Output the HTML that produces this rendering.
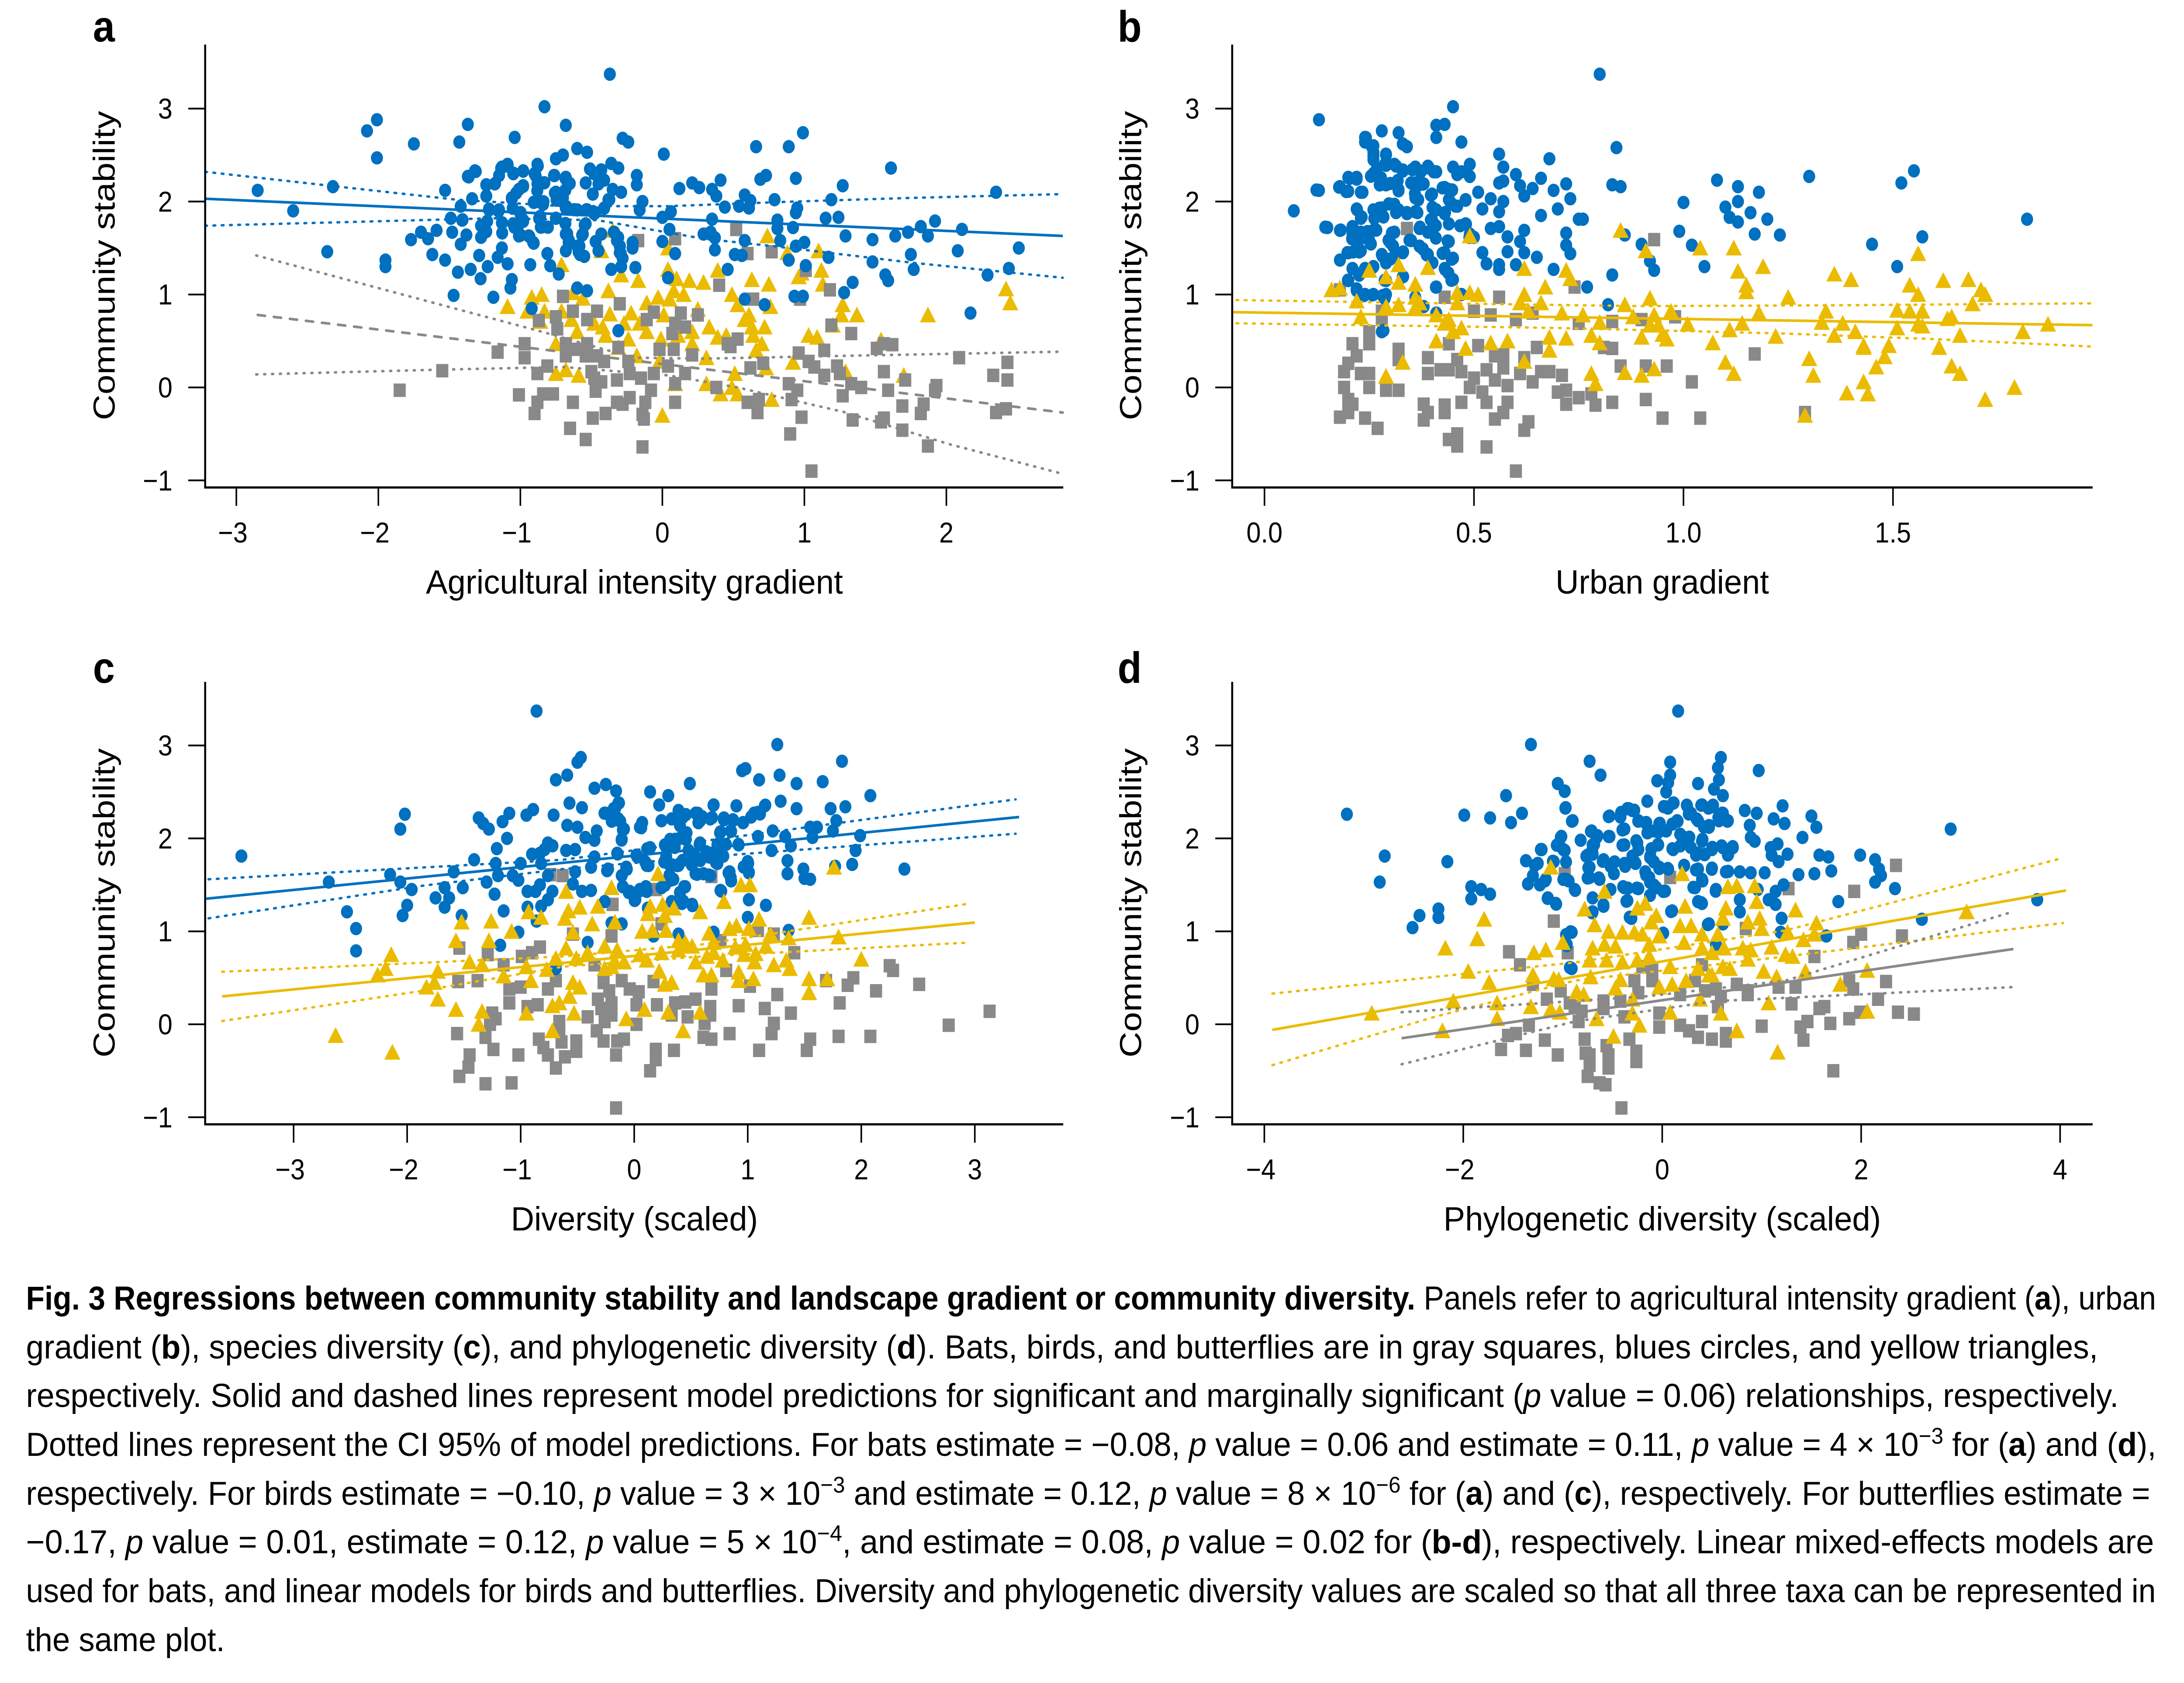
<!DOCTYPE html>
<html lang="en">
<head>
<meta charset="utf-8">
<title>Regressions between community stability and landscape gradient or community diversity</title>
<style>
html,body{margin:0;padding:0;background:#fff;width:100%;height:100%;overflow:hidden;}
svg{display:block;width:100vw;height:100vh;font-family:"Liberation Sans",Arial,sans-serif;}
</style>
</head>
<body>
<svg id="fig" xmlns="http://www.w3.org/2000/svg" viewBox="0 0 5546 3853" preserveAspectRatio="none">
<rect width="5546" height="3853" fill="#ffffff"/>
<g id="plots"></g>
<g font-size="76" fill="#000">
<text class="cap" data-w="5409" data-y="2998"><tspan font-weight="bold">Fig. 3 Regressions between community stability and landscape gradient or community diversity.</tspan> Panels refer to agricultural intensity gradient (<tspan font-weight="bold">a</tspan>), urban</text>
<text class="cap" data-w="5261" data-y="3110">gradient (<tspan font-weight="bold">b</tspan>), species diversity (<tspan font-weight="bold">c</tspan>), and phylogenetic diversity (<tspan font-weight="bold">d</tspan>). Bats, birds, and butterflies are in gray squares, blues circles, and yellow triangles,</text>
<text class="cap" data-w="5314" data-y="3221">respectively. Solid and dashed lines represent model predictions for significant and marginally significant (<tspan font-style="italic">p</tspan> value = 0.06) relationships, respectively.</text>
<text class="cap" data-w="5409" data-y="3333">Dotted lines represent the CI 95% of model predictions. For bats estimate = −0.08, <tspan font-style="italic">p</tspan> value = 0.06 and estimate = 0.11, <tspan font-style="italic">p</tspan> value = 4 × 10<tspan dy="-28" font-size="52">−3</tspan><tspan dy="28"> for (</tspan><tspan font-weight="bold">a</tspan>) and (<tspan font-weight="bold">d</tspan>),</text>
<text class="cap" data-w="5394" data-y="3445">respectively. For birds estimate = −0.10, <tspan font-style="italic">p</tspan> value = 3 × 10<tspan dy="-28" font-size="52">−3</tspan><tspan dy="28"> and estimate = 0.12, </tspan><tspan font-style="italic">p</tspan> value = 8 × 10<tspan dy="-28" font-size="52">−6</tspan><tspan dy="28"> for (</tspan><tspan font-weight="bold">a</tspan>) and (<tspan font-weight="bold">c</tspan>), respectively. For butterflies estimate =</text>
<text class="cap" data-w="5404" data-y="3556">−0.17, <tspan font-style="italic">p</tspan> value = 0.01, estimate = 0.12, <tspan font-style="italic">p</tspan> value = 5 × 10<tspan dy="-28" font-size="52">−4</tspan><tspan dy="28">, and estimate = 0.08, </tspan><tspan font-style="italic">p</tspan> value = 0.02 for (<tspan font-weight="bold">b-d</tspan>), respectively. Linear mixed-effects models are</text>
<text class="cap" data-w="5409" data-y="3668">used for bats, and linear models for birds and butterflies. Diversity and phylogenetic diversity values are scaled so that all three taxa can be represented in</text>
<text class="cap" data-w="505" data-y="3780">the same plot.</text>
</g>
</svg>
<script>
// ---------- Shared axis data ----------
const yTickValues=[-1,0,1,2,3];
const yTickLabels=["−1","0","1","2","3"];
const yAxisTitle="Community stability";

// ---------- Panel a ----------
const aXTicks=[-3,-2,-1,0,1,2];
const aXLabels=["−3","−2","−1","0","1","2"];
const aBirds=[[-.37,3.37],[-.83,3.02],[-2.01,2.88],[-2.08,2.76],[-1.37,2.83],[-.68,2.82],[-1.04,2.69],[-1.75,2.62],[-1.43,2.64],[-.28,2.68],[-.24,2.64],[-.6,2.57],[-.53,2.53],[-.7,2.5],[-.75,2.46],[.01,2.51],[-2.01,2.47],[.66,2.59],[.89,2.59],[.99,2.74],[1.61,2.36],[.73,2.28],[.69,2.24],[.94,2.25],[1.27,2.17],[.41,2.23],[.21,2.2],[.26,2.15],[.12,2.14],[.35,2.13],[.38,2.06],[.44,1.94],[.58,2.07],[.62,2.01],[.54,1.95],[.61,1.93],[.79,2.02],[1.19,2.02],[.95,1.93],[.94,1.88],[.81,1.8],[.92,1.72],[.81,1.71],[1.15,1.82],[1.24,1.83],[.83,1.58],[1.29,1.63],[1.48,1.59],[1.64,1.63],[1.73,1.67],[1.82,1.73],[1.92,1.79],[1.87,1.63],[2.11,1.7],[2.35,2.1],[2.51,1.5],[2.08,1.47],[1.75,1.43],[1.77,1.27],[1.48,1.35],[1.17,1.4],[1.57,1.21],[1.59,1.15],[2.29,1.21],[2.44,1.28],[2.17,.8],[1.34,1.13],[1.28,1.02],[1.01,1.31],[.99,.98],[.93,.98],[.72,.89],[.58,.95],[.46,1.27],[1,1.56],[.94,1.52],[.89,1.37],[.58,1.58],[.51,1.43],[.56,1.42],[.37,1.48],[.37,1.61],[.29,1.65],[.35,1.81],[.34,1.67],[.09,1.44],[.05,1.7],[.06,1.89],[0,1.83],[0,1.57],[.04,1.18],[-.14,2],[-.18,2.28],[-.18,2.18],[-.16,1.91],[-.21,1.56],[-.21,1.5],[-.19,1.29],[-.29,1.3],[-.36,1.27],[-.3,1.45],[-.31,.61],[-.53,1.04],[-.6,1.07],[-.73,1.22],[-.79,1.31],[-.81,1.44],[-.93,1.32],[-.92,.85],[-1.07,1.07],[-1.06,1.16],[-1.19,.97],[-1.47,.99],[-1.28,1.17],[-1.44,1.24],[-1.35,1.27],[-1.23,1.3],[-1.29,1.42],[-1.16,1.4],[-1.09,1.33],[-1.13,1.5],[-1.53,1.37],[-1.62,1.43],[-1.95,1.37],[-1.95,1.3],[-2.36,1.46],[-2.6,1.9],[-2.85,2.12],[-2.32,2.16],[-1.53,2.12],[-1.77,1.59],[-1.7,1.67],[-1.65,1.6],[-1.59,1.69],[-1.48,1.67],[-1.42,1.54],[-1.38,1.64],[-1.49,1.82],[-1.41,1.8],[-1.42,1.95],[-1.34,2.03],[-1.37,2.27],[-1.32,2.33],[-1.24,2.18],[-1.24,2.06],[-1.22,1.91],[-1.27,1.73],[-1.25,1.67],[-1.13,1.77],[-1.15,1.91],[-1.18,2.19],[-1.15,2.28],[-1.13,2.37],[-1.09,2.4],[-1.05,2.3],[-.98,2.33],[-.88,2.4],[-.9,2.3],[-1.01,2.13],[-.98,2.17],[-1.06,2.04],[-.88,2.19],[-.84,2.2],[-.76,2.28],[-.68,2.26],[-.66,2.2],[-.75,2.1],[-.88,2],[-.84,1.97],[-.7,2.04],[-.68,1.93],[-.6,1.91],[-.53,1.91],[-.41,1.93],[-.48,1.87],[-.54,2.2],[-.48,2.3],[-.51,2.35],[-.43,2.34],[-.36,2.41],[-.31,2.36],[-.45,2.19],[-.41,2.23],[-.35,2.13],[-.29,2.1],[-.38,2.02],[-.49,2.08],[-1,1.87],[-1.05,1.76],[-.98,1.8],[-1.02,1.71],[-1.01,1.63],[-.94,1.63],[-.91,1.56],[-.86,1.84],[-.84,1.73],[-.75,1.82],[-.68,1.65],[-.66,1.56],[-.68,1.47],[-.6,1.52],[-.58,1.43],[-.55,1.41],[-.56,1.65],[-.54,1.76],[-.43,1.65],[-.47,1.57],[-.45,1.47],[-.34,1.67],[-.32,1.58],[-.3,1.52],[-.28,1.39]];
const aBirdsDense=[[-1.314,2.324],[-1.364,2.265],[-1.24,2.18],[-1.178,2.194],[-1.135,2.359],[-1.089,2.382],[-1.048,2.304],[-.98,2.327],[-.877,2.382],[-.893,2.28],[-.831,2.202],[-.763,2.28],[-.683,2.249],[-.652,2.194],[-.683,2.124],[-.98,2.163],[-1.029,2.092],[-1.06,2.03],[-.906,1.991],[-.837,1.998],[-.881,2.116],[-.757,2.092],[-.745,2.014],[-.676,1.944],[-.621,1.912],[-.534,1.912],[-.472,1.881],[-.41,1.928],[-.373,2.022],[-1.221,1.92],[-1.153,1.897],[-1.054,1.928],[-.998,1.881],[-.98,1.787],[-1.042,1.724],[-1.128,1.771],[-1.128,1.662],[-1.234,1.787],[-1.277,1.74],[-1.24,1.677],[-1.277,1.615],[-1.407,1.803],[-.868,1.818],[-.856,1.724],[-.806,1.724],[-.683,1.764],[-.67,1.654],[-.658,1.583],[-.584,1.521],[-.59,1.458],[-.565,1.638],[-.547,1.748],[-.342,1.67],[-.311,1.615],[-.299,1.521],[-.293,1.443],[-.998,1.638],[-.936,1.623],[-.906,1.552]];
const aButterflies=[[-1.09,.87],[-.92,.97],[-.85,1],[-.95,.82],[-.86,.71],[-.71,.82],[-.71,1.32],[-.75,.47],[-.83,.82],[-.64,.73],[-.63,1.02],[-.56,.96],[-.6,.6],[-.48,.69],[-.38,1.04],[-.37,.79],[-.42,.65],[-.4,.56],[-.31,.43],[-.43,1.47],[-.35,1.69],[-.29,1.21],[-.17,1.15],[-.22,.8],[-.27,.69],[-.16,.69],[-.24,.52],[-.18,.34],[-.11,.6],[-.11,.91],[-.03,.97],[.05,.95],[.04,1.5],[.04,1.27],[.08,1.04],[.1,1.17],[.19,1.15],[.15,1],[.01,.78],[-.01,.52],[-.02,.28],[.11,.56],[.21,.6],[.21,.47],[.25,.84],[.29,1.13],[.39,1.26],[.49,1],[.33,.65],[.39,.54],[.45,.56],[.31,.32],[.53,.89],[.63,1.16],[.75,1.11],[.74,1.63],[.88,1.45],[.76,.87],[.61,.78],[.58,.73],[.63,.65],[.72,.65],[.64,.56],[.7,.47],[.66,.4],[.51,.15],[.73,.21],[.92,.27],[.96,1.19],[.98,1.23],[1.1,1.47],[1.12,1.26],[1.13,1.11],[1.27,.89],[1.26,.78],[1.2,.67],[1.37,.78],[1.03,.56],[1.09,.54],[1.29,.17],[1.7,.13],[1.54,.51],[1.87,.78],[2.42,1.06],[2.45,.91],[.77,-.13],[.53,-.07],[.41,-.07],[.49,0],[.31,.04],[.09,.04],[0,-.3],[-.75,.15],[-.68,.19],[-.59,.13]];
const aBats=[[-1.85,-.03],[-1.55,.18],[-1.16,.38],[-.97,.47],[-.97,.32],[-.7,.98],[-.87,.72],[-.75,.76],[-.74,.63],[-.63,.82],[-.46,.82],[-.53,.73],[-.3,.9],[-.06,.81],[-.17,1.58],[.09,1.6],[.52,1.7],[.6,1.44],[.77,1.46],[1.01,1.26],[1.18,1.05],[.4,1.1],[.64,.95],[.97,.95],[-.11,.73],[.13,.8],[.09,.69],[.25,.78],[.16,.65],[.07,.58],[1.19,.67],[1.33,.58],[-.68,.47],[-.68,.34],[-.6,.41],[-.53,.47],[-.54,.34],[-.46,.34],[-.41,.28],[-.31,.43],[-.24,.28],[-.02,.41],[.08,.41],[.21,.35],[.46,.47],[.53,.52],[.48,.44],[.71,.26],[.62,.21],[.96,.37],[1.03,.28],[1.14,.4],[1.07,.22],[1.23,.23],[1.14,.13],[1.25,.15],[1.51,.42],[1.56,.47],[1.62,.46],[1.56,.17],[1.71,.08],[2.09,.32],[2.43,.27],[2.33,.13],[2.43,.08],[1.93,.02],[1.92,-.03],[1.59,-.03],[1.4,0],[1.33,.04],[.89,.04],[.95,-.03],[1.27,-.09],[.91,-.13],[.6,-.16],[.68,-.13],[.67,-.27],[.38,0],[.09,.04],[.09,-.16],[.16,.15],[.04,.23],[-.06,.15],[-.15,.1],[-.08,-.03],[-.23,.15],[-.32,.08],[-.43,.06],[-.5,.17],[-.48,.1],[-.47,-.04],[-.88,.15],[-.81,.23],[-1.01,-.08],[-.84,-.07],[-.77,-.07],[-.88,-.16],[-.9,-.28],[-.63,-.16],[-.32,-.16],[-.23,-.11],[-.28,-.18],[-.12,-.16],[-.4,-.28],[-.49,-.33],[-.65,-.44],[-.54,-.56],[-.14,-.64],[-.14,-.29],[-.13,-.34],[.9,-.5],[.98,-.32],[1.05,-.9],[1.34,-.35],[1.54,-.37],[1.56,-.33],[1.69,-.46],[1.69,-.2],[1.84,-.18],[1.82,-.28],[1.87,-.63],[2.35,-.27],[2.42,-.23]];
const aBirdFit=[[-3.22,2.03],[2.82,1.63]];
const aBirdUpper=[[-3.22,2.32],[-2.34,2.17],[-1.45,2.02],[-.7,1.95],[.04,1.95],[.93,2],[1.77,2.04],[2.82,2.08]];
const aBirdLower=[[-3.22,1.74],[-2.2,1.78],[-1.2,1.82],[-.46,1.8],[.29,1.6],[.78,1.52],[1.77,1.34],[2.82,1.18]];
const aBatFit=[[-2.85,.78],[2.82,-.27]];
const aBatUpper=[[-2.86,1.42],[-1.5,.865],[-.85,.6],[-.2,.32],[.29,.31],[1.28,.34],[2.82,.385]];
const aBatLower=[[-2.86,.14],[-1.6,.19],[-.7,.22],[.04,.13],[.53,0],[1.28,-.265],[2.02,-.61],[2.82,-.93]];

// ---------- Panel b ----------
const bXTicks=[0,.5,1,1.5];
const bXLabels=["0.0","0.5","1.0","1.5"];
const bBirds=[[.8,3.37],[.13,2.88],[.45,3.02],[.43,2.83],[.41,2.82],[.41,2.69],[.28,2.76],[.32,2.74],[.24,2.69],[.24,2.64],[.26,2.6],[.33,2.62],[.34,2.59],[.47,2.64],[.56,2.51],[.68,2.46],[.84,2.58],[.26,2.53],[.29,2.51],[.26,2.45],[.29,2.39],[.31,2.4],[.57,2.37],[.49,2.4],[.45,2.37],[.39,2.38],[.36,2.37],[.33,2.34],[.37,2.33],[.41,2.32],[.47,2.32],[.46,2.29],[.49,2.27],[.6,2.29],[.57,2.22],[.56,2.2],[.66,2.25],[.72,2.19],[.61,2.17],[.64,2.14],[.69,2.12],[.62,2.06],[.73,2.03],[.7,1.92],[.66,1.85],[.83,2.18],[.85,2.16],[1,1.99],[1.08,2.23],[1.13,2.16],[1.18,2.1],[1.13,2],[1.1,1.94],[1.16,1.88],[1.11,1.83],[1.13,1.78],[1.2,1.81],[1.17,1.65],[1.23,1.64],[1.3,2.27],[1.52,2.2],[1.55,2.33],[1.82,1.81],[1.57,1.62],[1.45,1.54],[1.51,1.3],[1.05,1.3],[1.02,1.53],[.99,1.68],[.86,1.64],[.9,1.54],[.92,1.36],[.93,1.26],[.83,1.21],[.82,.89],[.77,1.08],[.75,1.81],[.76,1.81],[.72,1.66],[.72,1.53],[.73,1.44],[.69,1.27],[.65,1.4],[.62,1.45],[.62,1.69],[.61,1.57],[.58,1.62],[.58,1.46],[.6,1.32],[.56,1.27],[.56,1.32],[.53,1.33],[.52,1.45],[.54,1.71],[.56,1.73],[.56,1.89],[.57,2],[.54,2.03],[.52,1.92],[.51,2.1],[.48,2.02],[.46,1.95],[.44,2.02],[.43,2.15],[.44,2.13],[.4,2.08],[.38,2.19],[.36,2.2],[.36,2.04],[.32,2.13],[.29,2.18],[.27,2.28],[.26,2.3],[.23,2.1],[.22,2.26],[.2,2.26],[.18,2.16],[.2,2.11],[.13,2.12],[.07,1.9],[.15,1.72],[.22,1.92],[.23,1.82],[.26,1.91],[.28,1.93],[.31,1.97],[.32,1.91],[.34,1.87],[.36,1.89],[.41,1.91],[.4,1.8],[.43,1.87],[.44,1.76],[.48,1.76],[.49,1.65],[.44,1.57],[.39,1.67],[.37,1.71],[.35,1.58],[.37,1.52],[.39,1.43],[.43,1.45],[.45,1.39],[.43,1.28],[.45,1.16],[.41,1.08],[.47,1],[.33,1.45],[.31,1.67],[.3,1.56],[.31,1.41],[.28,1.43],[.29,1.34],[.23,1.47],[.2,1.45],[.18,1.37],[.21,1.28],[.24,1.28],[.26,1.3],[.21,1.65],[.23,1.67],[.18,1.69],[.21,1.73],[.25,1.58],[.26,1.69],[.2,1.15],[.22,1.06],[.24,1],[.26,1],[.29,1],[.29,1.15],[.33,1.19],[.28,.6],[.36,.97],[.38,.87],[.41,.8]];
const bBirdsDense=[[.242,2.688],[.256,2.594],[.26,2.492],[.29,2.5],[.287,2.398],[.314,2.382],[.33,2.327],[.268,2.351],[.254,2.273],[.278,2.257],[.275,2.179],[.3,2.194],[.318,2.226],[.32,2.116],[.353,2.343],[.373,2.32],[.393,2.359],[.404,2.32],[.35,2.2],[.376,2.186],[.359,2.085],[.367,2.02],[.397,2.069],[.425,2.147],[.448,2.124],[.401,1.936],[.444,1.991],[.456,1.951],[.48,2.014],[.431,1.881],[.397,1.803],[.409,1.74],[.371,1.724],[.365,1.881],[.34,1.881],[.314,1.881],[.297,1.975],[.274,1.928],[.262,1.818],[.284,1.834],[.221,1.912],[.232,1.834],[.267,1.693],[.246,1.677],[.209,1.709],[.223,1.568],[.209,1.599],[.254,1.544],[.212,1.458],[.198,1.45],[.226,1.458],[.304,1.662],[.296,1.584],[.307,1.521],[.331,1.458],[.282,1.411],[.3,1.38],[.346,1.584],[.378,1.49],[.387,1.427],[.401,1.341],[.425,1.443],[.447,1.38],[.431,1.27],[.439,1.231],[.446,1.153],[.409,1.079],[.437,1.576],[.409,1.607],[.481,1.756],[.467,1.74],[.5,1.615],[.489,1.615],[.21,1.278],[.199,1.153],[.226,1.208],[.238,1.262],[.259,1.294],[.287,1.153],[.331,1.192],[.22,1.043],[.237,.988],[.258,.996],[.282,.988],[.287,.957],[.284,.613],[.124,2.124],[.178,2.155],[.195,2.108],[.203,2.249],[.22,2.241],[.234,2.1],[.145,1.724],[.182,1.693]];
const bButterflies=[[.16,1.05],[.18,1.07],[.25,1.26],[.29,1.19],[.32,1.32],[.32,1.13],[.36,1.11],[.39,1.29],[.36,.97],[.37,.91],[.22,.93],[.29,.87],[.32,.89],[.36,.86],[.23,.76],[.41,.78],[.43,.69],[.45,.6],[.44,.73],[.47,.64],[.41,.5],[.48,.42],[.33,.27],[.29,.12],[.49,1.63],[.46,1.02],[.49,1.02],[.51,1],[.46,.91],[.54,.48],[.58,.5],[.62,.28],[.62,1.28],[.62,1],[.61,.91],[.63,.82],[.66,.91],[.67,1.08],[.72,1.26],[.73,1.17],[.71,.8],[.76,.78],[.68,.54],[.68,.4],[.72,.53],[.78,.56],[.8,.48],[.78,.15],[.79,.04],[.8,.7],[.86,.89],[.88,.76],[.92,.96],[.85,1.69],[.91,1.47],[1.04,1.5],[1.12,1.5],[1.13,1.25],[1.15,1.1],[1.15,1.03],[1.19,1.3],[1.25,.97],[1.18,.8],[1.14,.69],[1.11,.62],[1.01,.68],[.97,.82],[.93,.78],[.92,.67],[.94,.67],[.95,.57],[.96,.52],[.9,.54],[1.07,.48],[1.22,.55],[.86,.16],[.9,.13],[.93,.2],[1.1,.27],[1.12,.15],[1.29,-.3],[1.3,.31],[1.31,.13],[1.33,.7],[1.34,.82],[1.36,1.22],[1.4,1.16],[1.38,.69],[1.36,.56],[1.41,.6],[1.43,.45],[1.43,.43],[1.39,-.06],[1.43,.06],[1.44,-.07],[1.46,.22],[1.48,.33],[1.49,.45],[1.51,.83],[1.51,.64],[1.54,.82],[1.54,1.1],[1.56,1.44],[1.56,1],[1.57,.82],[1.56,.68],[1.57,.66],[1.61,.43],[1.62,1.15],[1.63,.74],[1.64,.76],[1.64,.23],[1.66,.15],[1.66,.56],[1.68,1.16],[1.69,.9],[1.71,1.05],[1.72,1],[1.72,-.13],[1.79,0],[1.81,.6],[1.87,.68]];
const bBats=[[.18,-.32],[.2,-.27],[.24,-.33],[.27,-.44],[.19,0],[.2,-.13],[.21,-.18],[.19,.17],[.2,.26],[.22,.34],[.21,.47],[.25,.47],[.25,.6],[.28,.73],[.23,.15],[.25,.15],[.25,0],[.29,-.03],[.32,-.03],[.32,.41],[.32,.3],[.39,.32],[.39,.15],[.42,.19],[.44,.19],[.46,.3],[.47,.17],[.44,.47],[.51,.45],[.53,.19],[.5,.1],[.49,0],[.47,-.16],[.52,-.05],[.53,-.16],[.38,-.18],[.39,-.27],[.38,-.35],[.43,-.19],[.43,-.27],[.46,-.5],[.44,-.56],[.46,-.63],[.53,-.64],[.6,-.9],[.55,-.34],[.57,-.27],[.58,-.16],[.55,.08],[.58,.02],[.57,.21],[.55,.34],[.57,.35],[.61,.15],[.64,.06],[.66,.17],[.68,.17],[.65,.43],[.62,.32],[.71,.13],[.7,-.05],[.72,-.03],[.72,-.18],[.75,-.11],[.78,-.07],[.79,-.19],[.83,-.16],[.63,-.37],[.62,-.46],[.91,-.13],[.95,-.33],[1.04,-.33],[1.02,.06],[.96,.23],[.91,.23],[.85,.23],[.83,.42],[.81,.43],[1.29,-.27],[1.17,.36],[.93,1.59],[.98,.76],[.9,.73],[.83,.71],[.75,.69],[.64,.8],[.6,.73],[.54,.78],[.5,.82],[.56,.97],[.43,.97],[.74,1.08],[.34,1.71],[.18,1.05],[.28,.82]];
const bButterflyFit=[[-.075,.81],[1.976,.67]];
const bButterflyUpper=[[-.067,.94],[.5,.9],[.9,.875],[1.4,.885],[1.976,.905]];
const bButterflyLower=[[-.067,.69],[.7,.64],[1.24,.58],[1.6,.52],[1.976,.44]];

// ---------- Panel c ----------
const cXTicks=[-3,-2,-1,0,1,2,3];
const cXLabels=["−3","−2","−1","0","1","2","3"];
const cBirds=[[-.86,3.37],[1.26,3.01],[1.83,2.83],[-.47,2.87],[-.5,2.82],[-.59,2.68],[-.69,2.63],[.95,2.73],[.98,2.75],[1.28,2.68],[1.1,2.63],[.49,2.59],[-.25,2.58],[-.35,2.54],[-.16,2.51],[.14,2.5],[.3,2.46],[1.43,2.59],[1.66,2.61],[2.08,2.46],[1.86,2.34],[1.73,2.32],[1.43,2.32],[1.29,2.4],[1.15,2.35],[.9,2.35],[.7,2.36],[.22,2.36],[-.14,2.38],[-.57,2.38],[-.46,2.33],[-.25,2.27],[-.18,2.32],[-.71,2.25],[-.89,2.31],[-.95,2.25],[-1.1,2.27],[-1.16,2.18],[-1.37,2.22],[-1.33,2.16],[-1.28,2.1],[-2.02,2.26],[-2.06,2.1],[-3.46,1.81],[-2.69,1.53],[-2.15,1.61],[-2.06,1.53],[-1.96,1.45],[-2.53,1.21],[-2.45,1.03],[-2.45,.79],[-2.04,1.17],[-2,1.28],[-1.67,1.47],[-1.75,1.36],[-1.63,1.36],[-1.67,1.26],[-1.59,1.64],[-1.51,1.47],[-1.52,1.17],[-1.23,1.4],[-1.15,1.22],[-1.02,.99],[-1.18,.85],[-1.3,1.53],[-1.2,1.6],[-1.22,1.73],[-1.21,1.89],[-1.12,2],[-1.41,1.77],[-1,1.73],[-1.07,1.6],[-1.02,1.55],[-.94,1.43],[-.87,1.43],[-.94,1.26],[-.82,1.27],[-.83,1.5],[-.76,1.6],[-.72,1.43],[-.9,1.83],[-.83,1.84],[-.76,1.95],[-.79,1.88],[-.72,1.92],[-.82,1.73],[-.6,1.87],[-.52,1.88],[-.59,2.14],[-.5,2.12],[-.43,2.01],[-.33,2.08],[-.35,1.98],[-.11,1.99],[-.14,2.21],[-.09,2.1],[.05,2.12],[.07,2.17],[.24,2.19],[.33,2.21],[.39,2.3],[.43,2.23],[.56,2.27],[.58,2.19],[.67,2.21],[.79,2.22],[.87,2.2],[.96,2.17],[1.03,2.23],[1.09,2.28],[.85,2.08],[.76,2.07],[1.09,2.02],[1.22,2.08],[1.33,2.02],[1.38,1.92],[1.21,1.87],[.92,1.93],[1.35,1.76],[1.35,1.62],[1.49,1.67],[1.5,1.57],[1.55,1.56],[1.55,2.12],[1.61,2.12],[1.57,2.01],[1.75,2.08],[1.78,2.19],[1.99,2.03],[1.95,1.87],[1.92,1.72],[1.77,1.7],[2.38,1.67],[1.16,1.28],[1.01,1.34],[1,1.75],[1.01,1.63],[.98,1.69],[.85,1.58],[.84,1.64],[.76,1.44],[1,1.15],[1.36,1.01],[.7,.99],[.39,.97],[.17,.95],[.51,1.29],[.44,1.48],[.32,1.55],[.33,1.32],[.42,1.3],[.12,1.25],[.11,1.43],[.05,1.45],[.01,1.34],[-.04,1.43],[-.11,1.6],[-.07,1.69],[-.15,1.84],[-.23,1.67],[-.26,1.32],[-.2,1.09],[-.11,1.08],[-.41,.88],[-.38,1.44],[-.46,1.43],[-.54,1.51],[-.52,1.64],[-.38,1.69],[-.35,1.8],[-.76,1.34],[-.86,1.11],[-.69,.6],[.02,1.82],[.11,1.71],[.14,1.9],[.27,1.93],[.36,1.99],[.45,2.03],[.3,1.73],[.39,1.71],[.51,1.8],[.58,1.95],[.66,1.8],[.61,1.62],[.54,1.62],[.67,1.6],[.73,1.86],[.79,1.93],[.72,1.74],[.24,1.47]];
const cBirdsDense=[[.397,2.263],[.455,2.256],[.542,2.271],[.6,2.232],[.686,2.224],[.698,2.357],[.79,2.201],[.871,2.193],[.958,2.169],[1.056,2.271],[1.108,2.263],[1.155,2.357],[.565,2.169],[.403,2.138],[.461,2.06],[.316,1.989],[.415,2.013],[.455,1.989],[.282,1.903],[.357,1.903],[.282,1.809],[.264,1.747],[.334,1.715],[.38,1.708],[.426,1.762],[.478,1.872],[.53,1.825],[.507,1.715],[.576,1.935],[.582,1.762],[.553,1.614],[.657,1.606],[.634,1.856],[.704,1.825],[.733,1.731],[.785,1.809],[.733,1.935],[.808,1.935],[.756,2.06],[.854,2.076],[.918,1.935],[.311,1.606],[.345,1.559],[.27,1.496],[.449,1.48],[.403,1.418],[.432,1.324],[.513,1.277],[-.1,2.091],[-.111,1.982],[-.262,2.271],[-.198,2.185],[-.123,2.185],[.062,2.115],[-.134,2.381],[-.169,2.318],[.114,1.888],[-.146,1.833],[.027,1.802],[.097,1.747],[.126,1.708],[-.065,1.668],[-.239,1.653],[-.1,1.48],[-.048,1.418],[.004,1.332],[.045,1.434],[.103,1.48],[.831,1.629],[.854,1.543],[.767,1.433],[1.01,1.34],[1.004,1.731],[.964,1.692],[1.01,1.637]];
const cButterflies=[[-2.63,-.12],[-2.13,-.3],[-2.26,.53],[-2.19,.6],[-2.14,.75],[-1.83,.4],[-1.76,.45],[-1.73,.57],[-1.73,.27],[-1.57,.16],[-1.57,.9],[-1.52,1.1],[-1.45,.67],[-1.34,.64],[-1.28,.9],[-1.26,1.11],[-1.15,.52],[-1.08,1],[-.95,.62],[-.93,1.21],[-.82,1.15],[-.91,.47],[-.95,.12],[-1.34,.14],[-1.37,0],[-.72,-.07],[-.72,.2],[-.66,.23],[-.57,.3],[-.53,.12],[-.54,.45],[-.48,.4],[-.77,.59],[-.69,.71],[-.6,.82],[-.51,.71],[-.41,.77],[-.54,.99],[-.37,1.08],[-.61,1.14],[-.58,1.22],[-.48,1.26],[-.6,1.43],[-.32,1.27],[-.2,1.47],[-.17,1.1],[-.26,.84],[-.15,.8],[-.26,.6],[-.2,.62],[-.17,.67],[-.09,.67],[-.07,.06],[.09,.16],[.3,.13],[.43,-.07],[.58,.13],[.27,.43],[.33,.45],[.22,.57],[.11,.69],[.05,.75],[.24,.77],[.39,.8],[.51,.84],[.07,1],[.16,1.01],[.12,1.19],[.27,1.17],[.14,1.27],[.25,1.29],[.35,1.25],[.21,1.62],[.28,1.01],[.39,.9],[.45,.88],[.58,1.21],[.66,.98],[.54,.67],[.64,.73],[.7,.88],[.7,.77],[.78,.69],[.61,.53],[.68,.53],[.79,1.32],[.84,1.03],[.9,1.06],[.94,1.5],[1.02,1.5],[1.01,1.03],[1.1,1.13],[.98,.86],[.89,.83],[.97,.75],[1.07,.76],[1.06,.67],[.92,.56],[.92,.47],[1.05,.49],[1.16,.84],[1.2,.97],[1.23,.64],[1.36,.93],[1.34,.69],[1.37,.6],[1.54,1.15],[1.54,.49],[1.54,.34],[1.7,.49],[1.76,1.69],[1.8,.94],[2,.7]];
const cBats=[[-.16,-.9],[-1.08,-.63],[-1.31,-.64],[-1.54,-.56],[-1.46,-.46],[-1.45,-.33],[-1.24,-.27],[-1.02,-.33],[-1.31,-.14],[-1.56,-.1],[-1.55,.46],[-1.38,.47],[-1.54,.82],[-1.29,.75],[-1.15,.64],[-1.1,.38],[-1,.4],[-.99,.73],[-.9,.77],[-.83,.83],[-.63,1.6],[-.74,1.61],[-.54,.97],[-.2,.95],[-.19,1.29],[.19,1.45],[.68,1.59],[1.09,1.01],[1.41,.77],[1.23,.97],[.76,.9],[.24,1.08],[-.35,.64],[-.69,.47],[-.76,.38],[-1.1,.23],[-.94,.19],[-.85,.21],[-1.25,.12],[-1.22,.06],[-1.27,0],[-.66,.03],[-.66,-.07],[-.64,-.19],[-.84,-.16],[-.8,-.25],[-.76,-.33],[-.61,-.35],[-.51,-.18],[-.51,-.29],[-.69,-.47],[-.16,-.33],[-.27,-.18],[-.33,-.07],[-.41,.08],[-.32,.27],[-.27,.45],[-.22,.36],[-.2,.23],[-.29,.17],[-.2,.1],[-.26,.03],[-.15,-.18],[-.09,-.16],[-.11,.47],[-.04,.38],[.04,.35],[.02,.21],[.02,0],[.14,-.5],[.19,-.38],[.19,-.27],[.35,-.28],[.2,.21],[.17,.46],[.36,.23],[.33,.1],[.47,.08],[.54,.27],[.45,.24],[.68,.38],[.67,.19],[.67,.1],[.62,.01],[.61,-.14],[.68,-.16],[.84,-.1],[.92,.2],[.81,.58],[1.02,.41],[1.15,.17],[1.23,.01],[1.21,-.1],[1.1,-.28],[1.26,.32],[1.38,.12],[1.52,-.28],[1.55,-.16],[1.69,.47],[1.8,-.13],[1.81,.23],[1.88,.42],[1.93,.5],[2.08,-.13],[2.13,.36],[2.25,.63],[2.28,.58],[2.51,.43],[2.77,-.01],[3.13,.14]];
const cBirdFit=[[-3.78,1.35],[3.39,2.23]];
const cBirdUpper=[[-3.75,1.56],[-.63,1.77],[.6,1.97],[3.36,2.42]];
const cBirdLower=[[-3.75,1.14],[-1.87,1.49],[-.63,1.67],[.61,1.8],[3.36,2.05]];
const cButterflyFit=[[-3.63,.3],[3,1.095]];
const cButterflyUpper=[[-3.63,.565],[-.63,.73],[.6,.86],[2.96,1.3]];
const cButterflyLower=[[-3.63,.035],[-1.87,.36],[-.63,.62],[.6,.73],[2.96,.88]];

// ---------- Panel d ----------
const dXTicks=[-4,-2,0,2,4];
const dXLabels=["−4","−2","0","2","4"];
const dBirds=[[.16,3.37],[-1.32,3.01],[.59,2.87],[-.73,2.83],[.08,2.82],[.56,2.76],[.97,2.73],[-.62,2.68],[.08,2.68],[.57,2.63],[-.05,2.62],[.06,2.6],[.36,2.59],[-1.05,2.59],[-.98,2.51],[.52,2.53],[.04,2.5],[.61,2.46],[-1.57,2.46],[-.15,2.4],[.11,2.38],[.03,2.34],[.25,2.35],[.4,2.36],[.5,2.34],[-.97,2.33],[-1.41,2.27],[-3.17,2.26],[-1.99,2.25],[-1.73,2.22],[-1.52,2.17],[-.9,2.19],[-.53,2.24],[-.42,2.23],[-.35,2.32],[-.3,2.3],[-.38,2.1],[-.24,2.19],[-.16,2.17],[-.03,2.16],[.15,2.19],[-.08,2.08],[.04,2.08],[.29,2.27],[.36,2.19],[.47,2.12],[.61,2.27],[.57,2.19],[.66,2.19],[.83,2.3],[.95,2.27],[.88,2.14],[1.21,2.35],[1.12,2.21],[1.23,2.16],[1.5,2.24],[1.55,2.12],[1.41,2.01],[2.9,2.1],[.89,2.01],[.93,1.97],[1.09,1.9],[1.16,1.94],[1.26,1.83],[1.17,1.75],[1.1,1.82],[1.58,1.82],[1.67,1.8],[1.99,1.82],[2.14,1.77],[2.18,1.67],[2.2,1.6],[2.14,1.53],[2.34,1.46],[1.77,1.32],[1.7,1.65],[1.53,1.62],[1.37,1.61],[1.22,1.5],[1.03,1.63],[.89,1.63],[1.14,1.43],[1.07,1.34],[1.14,1.29],[1.2,1.14],[1.19,.99],[1.65,.95],[2.61,1.13],[3.77,1.34],[.78,1.34],[.78,1.21],[.47,1.08],[.61,1.08],[.54,.86],[.4,1.3],[.36,1.32],[.1,1.22],[.01,.98],[-.31,1.14],[-.35,1.33],[-.24,1.46],[-.38,1.47],[-.52,1.45],[-.59,1.27],[-.7,1.36],[-.7,1.21],[-.88,1.45],[-.97,1.56],[-1.07,1.3],[-1.15,1.36],[-.91,.99],[-.96,.86],[-.91,.6],[-1.35,1.51],[-1.23,1.5],[-1.17,1.56],[-1.3,1.6],[-1.37,1.76],[-1.28,1.71],[-1.09,1.75],[-1.22,1.88],[-1.04,1.93],[-1.02,2.01],[-.98,1.87],[-.82,1.98],[-.71,2.08],[-.66,2.01],[-.7,1.93],[-.53,2.02],[-.75,1.82],[-.7,1.83],[-.59,1.77],[-.73,1.69],[-.73,1.58],[-.63,1.56],[-.52,1.7],[-.38,1.93],[-.25,1.95],[-.24,1.88],[-.38,1.73],[-.28,1.75],[-.17,1.64],[-.13,1.58],[-.12,1.81],[-.04,1.93],[-.03,1.69],[.06,1.67],[.11,1.88],[.22,2.01],[.4,1.97],[.34,1.82],[.43,1.83],[.5,1.88],[.61,1.9],[.71,1.9],[.66,1.82],[.22,1.71],[.36,1.67],[.5,1.68],[.64,1.64],[.78,1.64],[.4,1.56],[.33,1.47],[.01,1.43],[-.06,1.47],[.54,1.45],[.96,1.45],[-2.25,1.24],[-2.25,1.15],[-2.44,1.17],[-2.51,1.04],[-2.84,1.53],[-2.79,1.81],[-2.16,1.75],[-1.92,1.48],[-1.92,1.35],[-1.82,1.45],[-1.73,1.4]];
const dBirdsDense=[[-.538,2.235],[-.413,2.279],[-.334,2.318],[-.281,2.303],[-.4,2.091],[-.241,2.185],[-.169,2.169],[-.149,2.06],[-.037,2.068],[-.024,2.162],[.102,2.154],[.155,2.185],[.181,2.044],[.273,2.013],[.405,1.989],[.247,2.357],[.267,2.263],[.346,2.209],[.419,2.123],[.471,2.138],[.392,2.357],[.465,2.326],[.511,2.357],[.603,2.271],[.564,2.224],[.656,2.185],[.016,2.342],[.056,2.326],[.115,2.381],[-.717,2.076],[-.651,2.029],[-.538,2.021],[-.684,1.935],[-.763,1.809],[-.703,1.872],[-.743,1.684],[-.75,1.574],[-.598,1.754],[-.519,1.708],[-.479,1.747],[-.637,1.574],[-.486,1.621],[-.373,1.7],[-.3,1.809],[-.261,1.974],[-.268,1.731],[-.4,1.927],[-.162,1.606],[-.122,1.527],[-.083,1.496],[.029,1.433],[-.122,1.387],[-.255,1.465],[-.393,1.48],[-.347,1.465],[-.36,1.324],[-.043,1.935],[-.109,1.888],[-.122,1.794],[-.083,1.747],[-.03,1.676],[.056,1.676],[.102,1.888],[.181,1.919],[.287,1.903],[.359,1.841],[.425,1.825],[.504,1.903],[.597,1.919],[.709,1.911],[.663,1.825],[.221,1.708],[.339,1.661],[.405,1.543],[.313,1.473],[.498,1.668],[.663,1.645],[.537,1.433],[.392,1.308],[.089,1.214],[.458,1.073],[-.327,1.152],[-.703,1.2],[-.591,1.285],[-.981,2.506],[-.974,2.326],[-.908,2.185],[-1.014,2.021],[-1.06,1.927],[-.994,1.88],[-.967,1.747],[-1.099,1.754],[-1.212,1.88],[-1.251,1.731],[-1.179,1.543],[-.994,1.559],[-.941,1.543],[-.875,1.441],[-1.152,1.355],[-1.066,1.293],[-.921,.995],[-.967,.964],[-.961,.846],[-.928,.611]];
const dButterflies=[[-2.92,.12],[-2.21,-.07],[-2.1,.25],[-2.18,.82],[-1.86,.92],[-1.79,1.13],[-1.95,.57],[-1.74,.45],[-1.66,.23],[-1.66,.06],[-1.32,.19],[-1.3,.53],[-1.29,.77],[-1.17,.8],[-1.12,1.69],[-1.12,.16],[-1.03,.13],[-1.09,.49],[-1.04,.48],[-1,.88],[-.86,.35],[-.79,.32],[-.78,1.24],[-.68,1.07],[-.7,.82],[-.73,.69],[-.72,.51],[-.58,1.43],[-.54,1],[-.58,.86],[-.56,.69],[-.47,.84],[-.4,.99],[-.4,.67],[-.42,.48],[-.47,.39],[-.66,.06],[-.49,-.13],[-.3,.27],[-.3,.12],[-.23,-.01],[-.25,1.25],[-.17,1.3],[-.28,.99],[-.2,.97],[-.25,.69],[-.13,.86],[-.13,.73],[-.03,.95],[-.06,1.17],[-.11,1.1],[-.03,.4],[.08,.13],[.38,.27],[.59,.12],[.75,-.07],[1.16,-.3],[1.07,.23],[1.15,.51],[1.02,.57],[1.44,.57],[1.79,.43],[2.06,.58],[2.06,.14],[3.06,1.21],[1.55,1.09],[1.53,.97],[1.42,.91],[1.34,1.23],[1.26,.99],[1.24,.75],[1.31,.73],[1.1,.83],[.98,1.14],[1,1.03],[.95,1.32],[.93,1.49],[.75,1.49],[.66,1.48],[.64,1.25],[.61,1.14],[.86,1.1],[.56,.97],[.4,.97],[.23,1.27],[.29,1.06],[.18,1.06],[.2,1.62],[.22,.88],[.4,.82],[.5,.77],[.62,.82],[.81,.82],[.89,.8],[.86,.7],[.61,.62],[.68,.6],[.47,.53],[.36,.6],[.5,.53],[.24,.47],[.08,.62],[.1,.43]];
const dBats=[[-.41,-.9],[-.57,-.65],[-.63,-.63],[-.75,-.56],[-.73,-.44],[-.54,-.47],[-.73,-.33],[-.77,-.31],[-.54,-.33],[-.56,-.23],[-.78,-.16],[-.33,-.16],[-.26,-.29],[-.26,-.4],[-1.05,-.33],[-1.37,-.28],[-1.62,-.27],[-1.55,-.12],[-1.47,-.1],[-1.18,-.17],[-1.34,-.01],[-.84,.03],[-.88,.19],[-.93,.23],[-.81,.14],[-.59,.25],[-.59,.17],[-.42,.25],[-.38,.08],[-.24,.34],[-.28,.47],[-.1,.47],[-.03,.12],[-.03,-.03],[.18,-.01],[.27,-.07],[.36,-.14],[.4,.03],[.5,-.16],[.64,-.18],[.64,-.1],[.59,.3],[.56,.19],[.18,.32],[.43,.36],[.54,.38],[.75,.43],[.86,.36],[.86,.32],[1,-.02],[1.3,.22],[1.39,-.03],[1.42,-.17],[1.46,.03],[1.58,.17],[1.63,.19],[1.69,.01],[1.88,.06],[1.99,.13],[1.72,-.5],[1.92,.38],[1.88,.47],[2.17,.27],[2.25,.46],[2.37,.13],[2.53,.11],[1.34,.4],[1.17,.4],[1.53,.73],[1.92,.88],[2,.97],[2.41,.95],[1.93,1.43],[2.35,1.71],[1.27,1.46],[.84,1.03],[.08,1.58],[-.98,1.62],[-1.09,1.11],[-1.54,.78],[-1.43,.64],[-.95,.77],[-1.3,.43],[-1.16,.27],[-1.02,.36],[-.2,.62],[-.1,.6],[.4,.64],[.33,.47]];
const dButterflyFit=[[-3.92,-.06],[4.06,1.44]];
const dButterflyUpper=[[-3.92,.33],[-.88,.665],[1.24,1.01],[4.03,1.79]];
const dButterflyLower=[[-3.92,-.44],[-2.29,.08],[-.88,.47],[1.24,.73],[4.03,1.09]];
const dBatFit=[[-2.62,-.15],[3.53,.81]];
const dBatUpper=[[-2.62,.13],[-.17,.3],[1.24,.47],[3.49,1.2]];
const dBatLower=[[-2.62,-.43],[-.88,.03],[.54,.25],[1.95,.32],[3.52,.4]];

// ---------- Drawing ----------
const NS="http://www.w3.org/2000/svg";
const BLUE="#0070c0",YELLOW="#ebbb00",GRAY="#898989";
const plots=document.getElementById('plots');

function mk(parent,tag,attrs){
  const el=document.createElementNS(NS,tag);
  for(const k in attrs) el.setAttribute(k,attrs[k]);
  parent.appendChild(el);
  return el;
}

function drawBirds(g,pts,sx,sy){
  pts.forEach(function(p){
    const el=mk(g,'circle',{cx:sx(p[0]),cy:sy(p[1]),r:15.3,fill:BLUE});
    
    
  });
}
function drawBats(g,pts,sx,sy){
  pts.forEach(function(p){
    const el=mk(g,'rect',{x:sx(p[0])-15.4,y:sy(p[1])-15.4,width:30.8,height:30.8,fill:GRAY});
    
    
  });
}
function drawButterflies(g,pts,sx,sy){
  pts.forEach(function(p){
    const x=sx(p[0]),y=sy(p[1]);
    const el=mk(g,'polygon',{points:x+','+(y-19)+' '+(x-20.5)+','+(y+17)+' '+(x+20.5)+','+(y+17),fill:YELLOW});
    
    
  });
}
function drawLine(g,pts,sx,sy,color,kind,name){
  const styles={solid:{w:6,d:'none',c:'butt'},dashed:{w:6,d:'19 22',c:'round'},dotted:{w:5.5,d:'5 16',c:'round'},dottedThin:{w:6,d:'3 17',c:'round'}};
  const st=styles[kind];
  const el=mk(g,'polyline',{points:pts.map(function(p){return sx(p[0])+','+sy(p[1]);}).join(' '),fill:'none',stroke:color,'stroke-width':st.w,'stroke-dasharray':st.d,'stroke-linecap':st.c});
  
  
}

function drawPanel(cfg){
  const g=mk(plots,'g',{});
  
  
  const sx=function(v){return cfg.x0+cfg.xUnit*v;};
  const sy=function(v){return cfg.y0-212.8*v;};

  cfg.layers.forEach(function(layer){
    if(layer==='bats') drawBats(g,cfg.bats,sx,sy);
    if(layer==='birds') drawBirds(g,cfg.birds,sx,sy);
    if(layer==='butterflies') drawButterflies(g,cfg.butterflies,sx,sy);
  });
  cfg.lines.forEach(function(l){drawLine(g,l.pts,sx,sy,l.color,l.kind,l.name);});

  const yAxis=mk(g,'line',{x1:cfg.left,x2:cfg.left,y1:cfg.top,y2:cfg.bottom+2.5,stroke:'#000','stroke-width':5});
  
  
  const xAxis=mk(g,'line',{x1:cfg.left,x2:cfg.right,y1:cfg.bottom,y2:cfg.bottom,stroke:'#000','stroke-width':5});
  
  

  yTickValues.forEach(function(v,i){
    const t=mk(g,'line',{x1:cfg.left-43,x2:cfg.left,y1:sy(v),y2:sy(v),stroke:'#000','stroke-width':4});
    
    
    const lb=mk(g,'text',{x:cfg.left-83,y:sy(v)+23,'text-anchor':'end','font-size':66,fill:'#000'});
    
    
    lb.textContent=yTickLabels[i];
  });
  cfg.xTicks.forEach(function(v,i){
    const t=mk(g,'line',{x1:sx(v),x2:sx(v),y1:cfg.bottom,y2:cfg.bottom+42,stroke:'#000','stroke-width':4});
    
    
    const lb=mk(g,'text',{x:sx(v)-(cfg.xLabels[i][0]==='−'?9:0),y:cfg.bottom+126,'text-anchor':'middle','font-size':66,fill:'#000'});
    
    
    lb.textContent=cfg.xLabels[i];
  });

  const xt=mk(g,'text',{x:cfg.xTitleX,y:cfg.bottom+243,'text-anchor':'middle','font-size':77,fill:'#000',textLength:cfg.xTitleW,lengthAdjust:'spacingAndGlyphs'});
  
  
  xt.textContent=cfg.xTitle;

  const yt=mk(g,'text',{transform:'translate('+cfg.yTitleX+','+cfg.yTitleY+') rotate(-90)','text-anchor':'middle','font-size':77,fill:'#000',textLength:708,lengthAdjust:'spacingAndGlyphs'});
  
  
  yt.textContent=yAxisTitle;

  const pl=mk(g,'text',{x:cfg.letterX,y:cfg.letterY,'font-size':100,'font-weight':'bold',fill:'#000'});
  
  
  pl.textContent=cfg.letter;
}

drawPanel({letter:'a',letterX:236,letterY:95,left:521,right:2700,top:102,bottom:1116,x0:1682,xUnit:360.6,y0:887,
  xTicks:aXTicks,xLabels:aXLabels,xTitle:'Agricultural intensity gradient',xTitleX:1611,xTitleW:1059,yTitleX:291,yTitleY:608,
  birds:aBirds.concat(aBirdsDense),bats:aBats,butterflies:aButterflies,layers:['butterflies','bats','birds'],
  lines:[{pts:aBirdFit,color:BLUE,kind:'solid',name:'bird-fit-line'},{pts:aBirdUpper,color:BLUE,kind:'dotted',name:'bird-ci-upper'},{pts:aBirdLower,color:BLUE,kind:'dotted',name:'bird-ci-lower'},{pts:aBatFit,color:GRAY,kind:'dashed',name:'bat-fit-line'},{pts:aBatUpper,color:GRAY,kind:'dottedThin',name:'bat-ci-upper'},{pts:aBatLower,color:GRAY,kind:'dottedThin',name:'bat-ci-lower'}]});

drawPanel({letter:'b',letterX:2838,letterY:95,left:3129,right:5314,top:102,bottom:1116,x0:3211,xUnit:1064,y0:887,
  xTicks:bXTicks,xLabels:bXLabels,xTitle:'Urban gradient',xTitleX:4221,xTitleW:542,yTitleX:2898,yTitleY:608,
  birds:bBirds.concat(bBirdsDense),bats:bBats,butterflies:bButterflies,layers:['bats','birds','butterflies'],
  lines:[{pts:bButterflyFit,color:YELLOW,kind:'solid',name:'butterfly-fit-line'},{pts:bButterflyUpper,color:YELLOW,kind:'dotted',name:'butterfly-ci-upper'},{pts:bButterflyLower,color:YELLOW,kind:'dotted',name:'butterfly-ci-lower'}]});

drawPanel({letter:'c',letterX:236,letterY:1563,left:521,right:2700,top:1561,bottom:2574,x0:1610.5,xUnit:288.3,y0:2345,
  xTicks:cXTicks,xLabels:cXLabels,xTitle:'Diversity (scaled)',xTitleX:1611,xTitleW:627,yTitleX:291,yTitleY:2067,
  birds:cBirds.concat(cBirdsDense),bats:cBats,butterflies:cButterflies,layers:['bats','birds','butterflies'],
  lines:[{pts:cBirdFit,color:BLUE,kind:'solid',name:'bird-fit-line'},{pts:cBirdUpper,color:BLUE,kind:'dotted',name:'bird-ci-upper'},{pts:cBirdLower,color:BLUE,kind:'dotted',name:'bird-ci-lower'},{pts:cButterflyFit,color:YELLOW,kind:'solid',name:'butterfly-fit-line'},{pts:cButterflyUpper,color:YELLOW,kind:'dotted',name:'butterfly-ci-upper'},{pts:cButterflyLower,color:YELLOW,kind:'dotted',name:'butterfly-ci-lower'}]});

drawPanel({letter:'d',letterX:2838,letterY:1563,left:3129,right:5314,top:1561,bottom:2574,x0:4221,xUnit:252.6,y0:2345,
  xTicks:dXTicks,xLabels:dXLabels,xTitle:'Phylogenetic diversity (scaled)',xTitleX:4221,xTitleW:1111,yTitleX:2898,yTitleY:2067,
  birds:dBirds.concat(dBirdsDense),bats:dBats,butterflies:dButterflies,layers:['bats','birds','butterflies'],
  lines:[{pts:dButterflyFit,color:YELLOW,kind:'solid',name:'butterfly-fit-line'},{pts:dButterflyUpper,color:YELLOW,kind:'dotted',name:'butterfly-ci-upper'},{pts:dButterflyLower,color:YELLOW,kind:'dotted',name:'butterfly-ci-lower'},{pts:dBatFit,color:GRAY,kind:'solid',name:'bat-fit-line'},{pts:dBatUpper,color:GRAY,kind:'dottedThin',name:'bat-ci-upper'},{pts:dBatLower,color:GRAY,kind:'dottedThin',name:'bat-ci-lower'}]});

// Fit each caption line to the measured width of the reference line.
document.querySelectorAll('text.cap').forEach(function(t){
  const target=parseFloat(t.getAttribute('data-w'));
  const lineY=t.getAttribute('data-y');
  const natural=t.getComputedTextLength();
  t.setAttribute('transform','translate(66,'+lineY+') scale('+(target/natural)+',1)');
});
</script>
</body>
</html>
